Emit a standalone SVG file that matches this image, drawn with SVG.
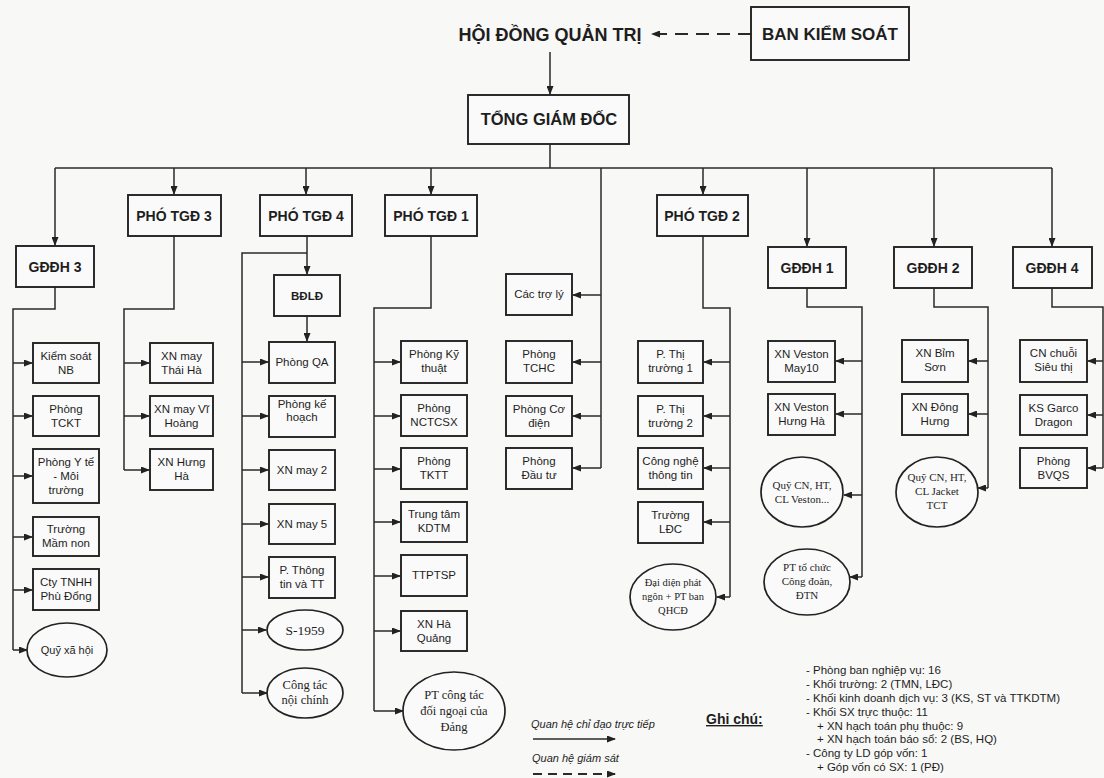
<svg xmlns="http://www.w3.org/2000/svg" width="1104" height="778" viewBox="0 0 1104 778">
<style>
.bg{fill:#f8f8f6}
.b{fill:#fafafa;stroke:#222;stroke-width:1.9}
.e{fill:#fafafa;stroke:#222;stroke-width:1.7}
.c{fill:none;stroke:#2a2a2a;stroke-width:1.5}
.d{fill:none;stroke:#2a2a2a;stroke-width:1.8;stroke-dasharray:13,8}
text{font-family:"Liberation Sans",Arial,sans-serif;fill:#1e1e1e;text-anchor:middle}
.h{font-weight:bold;font-size:16.5px}
.m{font-weight:bold;font-size:14px}
.s{font-size:11.5px}
.r{font-family:"Liberation Serif","Times New Roman",serif;font-size:11px}
.l{font-size:11px;font-style:italic;text-anchor:start}
.n{font-size:11.5px;text-anchor:start}
</style>
<defs>
<marker id="a" markerWidth="9" markerHeight="7" refX="8" refY="3.5" orient="auto" markerUnits="userSpaceOnUse">
<path d="M0,0 L9,3.5 L0,7 Z" fill="#222"/>
</marker>
</defs>
<rect class="bg" x="0" y="0" width="1104" height="778"/>

<g id="connectors">
<path class="d" d="M751,34 L652,34" marker-end="url(#a)"/>
<path class="c" d="M550,52 L550,94" marker-end="url(#a)"/>
<path class="c" d="M550,143 L550,168 M55,168 L1052,168"/>
<path class="c" d="M55,168 L55,245" marker-end="url(#a)"/>
<path class="c" d="M174,168 L174,194" marker-end="url(#a)"/>
<path class="c" d="M306,168 L306,194" marker-end="url(#a)"/>
<path class="c" d="M431,168 L431,194" marker-end="url(#a)"/>
<path class="c" d="M703,168 L703,194" marker-end="url(#a)"/>
<path class="c" d="M807,168 L807,246" marker-end="url(#a)"/>
<path class="c" d="M934,168 L934,246" marker-end="url(#a)"/>
<path class="c" d="M1052,168 L1052,246" marker-end="url(#a)"/>
<path class="c" d="M601,168 L601,468"/>
<!-- GDDH3 -->
<path class="c" d="M55,287 L55,309 L13,309 L13,650"/>
<path class="c" d="M13,363 L32,363" marker-end="url(#a)"/>
<path class="c" d="M13,416 L32,416" marker-end="url(#a)"/>
<path class="c" d="M13,476 L32,476" marker-end="url(#a)"/>
<path class="c" d="M13,537 L32,537" marker-end="url(#a)"/>
<path class="c" d="M13,590 L32,590" marker-end="url(#a)"/>
<path class="c" d="M13,650 L27,650" marker-end="url(#a)"/>
<!-- PTGD3 -->
<path class="c" d="M174,236 L174,309 L124,309 L124,470"/>
<path class="c" d="M124,363 L149,363" marker-end="url(#a)"/>
<path class="c" d="M124,416 L149,416" marker-end="url(#a)"/>
<path class="c" d="M124,470 L149,470" marker-end="url(#a)"/>
<!-- PTGD4 -->
<path class="c" d="M307,236 L307,274" marker-end="url(#a)"/>
<path class="c" d="M307,253 L242,253 L242,693"/>
<path class="c" d="M307,316 L307,341" marker-end="url(#a)"/>
<path class="c" d="M242,362 L268,362" marker-end="url(#a)"/>
<path class="c" d="M242,416 L268,416" marker-end="url(#a)"/>
<path class="c" d="M242,470 L268,470" marker-end="url(#a)"/>
<path class="c" d="M242,524 L268,524" marker-end="url(#a)"/>
<path class="c" d="M242,577 L268,577" marker-end="url(#a)"/>
<path class="c" d="M242,630 L266,630" marker-end="url(#a)"/>
<path class="c" d="M242,693 L267,693" marker-end="url(#a)"/>
<!-- PTGD1 -->
<path class="c" d="M431,236 L431,308 L374,308 L374,711"/>
<path class="c" d="M374,362 L400,362" marker-end="url(#a)"/>
<path class="c" d="M374,416 L400,416" marker-end="url(#a)"/>
<path class="c" d="M374,469 L400,469" marker-end="url(#a)"/>
<path class="c" d="M374,522 L400,522" marker-end="url(#a)"/>
<path class="c" d="M374,576 L400,576" marker-end="url(#a)"/>
<path class="c" d="M374,631 L400,631" marker-end="url(#a)"/>
<path class="c" d="M374,711 L403,711" marker-end="url(#a)"/>
<!-- Cac tro ly -->
<path class="c" d="M601,295 L573,295" marker-end="url(#a)"/>
<path class="c" d="M601,362 L573,362" marker-end="url(#a)"/>
<path class="c" d="M601,416 L573,416" marker-end="url(#a)"/>
<path class="c" d="M601,468 L573,468" marker-end="url(#a)"/>
<!-- PTGD2 -->
<path class="c" d="M703,236 L703,308 L730,308 L730,597"/>
<path class="c" d="M730,362 L704,362" marker-end="url(#a)"/>
<path class="c" d="M730,416 L704,416" marker-end="url(#a)"/>
<path class="c" d="M730,468 L704,468" marker-end="url(#a)"/>
<path class="c" d="M730,522 L704,522" marker-end="url(#a)"/>
<path class="c" d="M730,597 L717,597" marker-end="url(#a)"/>
<!-- GDDH1 -->
<path class="c" d="M807,288 L807,307 L862,307 L862,577"/>
<path class="c" d="M862,361 L836,361" marker-end="url(#a)"/>
<path class="c" d="M862,414 L836,414" marker-end="url(#a)"/>
<path class="c" d="M862,495 L844,495" marker-end="url(#a)"/>
<path class="c" d="M862,577 L850,577" marker-end="url(#a)"/>
<!-- GDDH2 -->
<path class="c" d="M934,288 L934,307 L988,307 L988,488"/>
<path class="c" d="M988,361 L969,361" marker-end="url(#a)"/>
<path class="c" d="M988,414 L969,414" marker-end="url(#a)"/>
<path class="c" d="M988,488 L978,488" marker-end="url(#a)"/>
<!-- GDDH4 -->
<path class="c" d="M1052,288 L1052,307 L1103,307 L1103,468"/>
<path class="c" d="M1103,361 L1088,361" marker-end="url(#a)"/>
<path class="c" d="M1103,415 L1088,415" marker-end="url(#a)"/>
<path class="c" d="M1103,468 L1088,468" marker-end="url(#a)"/>
</g>

<g id="hdqt"><text class="h" x="550" y="41" style="font-size:18px">HỘI ĐỒNG QUẢN TRỊ</text></g>
<g id="bks"><rect class="b" x="751" y="7" width="158" height="53"/><text class="h" x="830" y="40" style="font-size:17px">BAN KIỂM SOÁT</text></g>
<g id="tgd"><rect class="b" x="468" y="95" width="161" height="49"/><text class="h" x="549" y="125">TỔNG GIÁM ĐỐC</text></g>

<g id="ptgd3"><rect class="b" x="128" y="195" width="93" height="41"/><text class="m" x="174" y="221">PHÓ TGĐ 3</text></g>
<g id="ptgd4"><rect class="b" x="260" y="195" width="92" height="41"/><text class="m" x="306" y="221">PHÓ TGĐ 4</text></g>
<g id="ptgd1"><rect class="b" x="385" y="195" width="92" height="41"/><text class="m" x="431" y="221">PHÓ TGĐ 1</text></g>
<g id="ptgd2"><rect class="b" x="657" y="195" width="91" height="41"/><text class="m" x="702" y="221">PHÓ TGĐ 2</text></g>

<g id="gddh3"><rect class="b" x="16" y="246" width="78" height="41"/><text class="m" x="55" y="272">GĐĐH 3</text></g>
<g id="gddh1"><rect class="b" x="768" y="247" width="78" height="41"/><text class="m" x="807" y="273">GĐĐH 1</text></g>
<g id="gddh2"><rect class="b" x="894" y="247" width="78" height="41"/><text class="m" x="933" y="273">GĐĐH 2</text></g>
<g id="gddh4"><rect class="b" x="1013" y="247" width="79" height="41"/><text class="m" x="1052" y="273">GĐĐH 4</text></g>

<!-- GDDH3 children -->
<g id="ksnb"><rect class="b" x="33" y="343" width="66" height="40"/><text class="s" x="66" y="360">Kiểm soát</text><text class="s" x="66" y="374">NB</text></g>
<g id="tckt"><rect class="b" x="33" y="396" width="66" height="40"/><text class="s" x="66" y="413">Phòng</text><text class="s" x="66" y="427">TCKT</text></g>
<g id="yte"><rect class="b" x="33" y="449" width="66" height="54"/><text class="s" x="66" y="466">Phòng Y tế</text><text class="s" x="66" y="480">- Môi</text><text class="s" x="66" y="494">trường</text></g>
<g id="mamnon"><rect class="b" x="33" y="517" width="66" height="39"/><text class="s" x="66" y="533">Trường</text><text class="s" x="66" y="547">Mầm non</text></g>
<g id="phudong"><rect class="b" x="33" y="569" width="66" height="41"/><text class="s" x="66" y="586">Cty TNHH</text><text class="s" x="66" y="600">Phù Đổng</text></g>
<g id="quyxh"><ellipse class="e" cx="67" cy="650" rx="40" ry="27"/><text class="s" x="67" y="654" style="font-size:11px">Quỹ xã hội</text></g>

<!-- PTGD3 children -->
<g id="thaiha"><rect class="b" x="150" y="343" width="63" height="40"/><text class="s" x="181.5" y="360">XN may</text><text class="s" x="181.5" y="374">Thái Hà</text></g>
<g id="vihoang"><rect class="b" x="150" y="396" width="63" height="40"/><text class="s" x="181.5" y="413">XN may Vĩ</text><text class="s" x="181.5" y="427">Hoàng</text></g>
<g id="hungha"><rect class="b" x="150" y="449" width="63" height="41"/><text class="s" x="181.5" y="466">XN Hưng</text><text class="s" x="181.5" y="480">Hà</text></g>

<!-- PTGD4 children -->
<g id="bdld"><rect class="b" x="274" y="275" width="66" height="41"/><text class="s" x="307" y="300" style="font-weight:bold">BĐLĐ</text></g>
<g id="qa"><rect class="b" x="269" y="342" width="66" height="41"/><text class="s" x="302" y="366">Phòng QA</text></g>
<g id="kehoach"><rect class="b" x="269" y="396" width="66" height="41"/><text class="s" x="302" y="408">Phòng kế</text><text class="s" x="302" y="421">hoạch</text></g>
<g id="may2"><rect class="b" x="269" y="450" width="66" height="40"/><text class="s" x="302" y="474">XN may 2</text></g>
<g id="may5"><rect class="b" x="269" y="504" width="66" height="40"/><text class="s" x="302" y="528">XN may 5</text></g>
<g id="thongtin"><rect class="b" x="269" y="557" width="66" height="41"/><text class="s" x="302" y="574">P. Thông</text><text class="s" x="302" y="588">tin và TT</text></g>
<g id="s1959"><ellipse class="e" cx="305" cy="630" rx="38" ry="20"/><text class="r" x="305" y="635" style="font-size:13.5px">S-1959</text></g>
<g id="noichinh"><ellipse class="e" cx="305" cy="693" rx="38" ry="25"/><text class="r" x="305" y="689" style="font-size:12.5px">Công tác</text><text class="r" x="305" y="704" style="font-size:12.5px">nội chính</text></g>

<!-- PTGD1 children -->
<g id="kythuat"><rect class="b" x="401" y="341" width="66" height="42"/><text class="s" x="434" y="358">Phòng Kỹ</text><text class="s" x="434" y="372">thuật</text></g>
<g id="nctcsx"><rect class="b" x="401" y="395" width="66" height="41"/><text class="s" x="434" y="412">Phòng</text><text class="s" x="434" y="426">NCTCSX</text></g>
<g id="tktt"><rect class="b" x="401" y="448" width="66" height="41"/><text class="s" x="434" y="465">Phòng</text><text class="s" x="434" y="479">TKTT</text></g>
<g id="kdtm"><rect class="b" x="401" y="502" width="66" height="40"/><text class="s" x="434" y="518">Trung tâm</text><text class="s" x="434" y="532">KDTM</text></g>
<g id="ttptsp"><rect class="b" x="401" y="555" width="66" height="41"/><text class="s" x="434" y="579">TTPTSP</text></g>
<g id="haquang"><rect class="b" x="401" y="611" width="66" height="40"/><text class="s" x="434" y="628">XN Hà</text><text class="s" x="434" y="642">Quảng</text></g>
<g id="doingoai"><ellipse class="e" cx="454" cy="711" rx="51" ry="39"/><text class="r" x="454" y="699" style="font-size:12.5px">PT công tác</text><text class="r" x="454" y="715" style="font-size:12.5px">đối ngoại của</text><text class="r" x="454" y="731" style="font-size:12.5px">Đảng</text></g>

<!-- Cac tro ly column -->
<g id="troly"><rect class="b" x="506" y="274" width="66" height="41"/><text class="s" x="539" y="298">Các trợ lý</text></g>
<g id="tchc"><rect class="b" x="506" y="341" width="66" height="42"/><text class="s" x="539" y="358">Phòng</text><text class="s" x="539" y="372">TCHC</text></g>
<g id="codien"><rect class="b" x="506" y="396" width="66" height="40"/><text class="s" x="539" y="413">Phòng Cơ</text><text class="s" x="539" y="427">điện</text></g>
<g id="dautu"><rect class="b" x="506" y="448" width="66" height="41"/><text class="s" x="539" y="465">Phòng</text><text class="s" x="539" y="479">Đầu tư</text></g>

<!-- PTGD2 children -->
<g id="tt1"><rect class="b" x="638" y="341" width="65" height="42"/><text class="s" x="670.5" y="358">P. Thị</text><text class="s" x="670.5" y="372">trường 1</text></g>
<g id="tt2"><rect class="b" x="638" y="396" width="65" height="40"/><text class="s" x="670.5" y="413">P. Thị</text><text class="s" x="670.5" y="427">trường 2</text></g>
<g id="cntt"><rect class="b" x="638" y="448" width="65" height="41"/><text class="s" x="670.5" y="465">Công nghệ</text><text class="s" x="670.5" y="479">thông tin</text></g>
<g id="ldc"><rect class="b" x="638" y="502" width="65" height="41"/><text class="s" x="670.5" y="519">Trường</text><text class="s" x="670.5" y="533">LĐC</text></g>
<g id="phatngon"><ellipse class="e" cx="673" cy="597" rx="43" ry="33"/><text class="r" x="673" y="586" style="font-size:10.5px">Đại diện phát</text><text class="r" x="673" y="600" style="font-size:10.5px">ngôn + PT ban</text><text class="r" x="673" y="614" style="font-size:10.5px">QHCĐ</text></g>

<!-- GDDH1 children -->
<g id="may10"><rect class="b" x="768" y="341" width="67" height="41"/><text class="s" x="801.5" y="358">XN Veston</text><text class="s" x="801.5" y="372">May10</text></g>
<g id="vestonhh"><rect class="b" x="768" y="394" width="67" height="41"/><text class="s" x="801.5" y="411">XN Veston</text><text class="s" x="801.5" y="425">Hưng Hà</text></g>
<g id="quyveston"><ellipse class="e" cx="802" cy="492" rx="41" ry="35"/><text class="r" x="802" y="489" style="font-size:11px">Quỹ CN, HT,</text><text class="r" x="802" y="503" style="font-size:11px">CL Veston...</text></g>
<g id="congdoan"><ellipse class="e" cx="807" cy="582" rx="43" ry="33"/><text class="r" x="807" y="571" style="font-size:11px">PT tổ chức</text><text class="r" x="807" y="585" style="font-size:11px">Công đoàn,</text><text class="r" x="807" y="599" style="font-size:11px">ĐTN</text></g>

<!-- GDDH2 children -->
<g id="bimson"><rect class="b" x="902" y="340" width="66" height="42"/><text class="s" x="935" y="357">XN Bỉm</text><text class="s" x="935" y="371">Sơn</text></g>
<g id="donghung"><rect class="b" x="902" y="394" width="66" height="41"/><text class="s" x="935" y="411">XN Đông</text><text class="s" x="935" y="425">Hưng</text></g>
<g id="quyjacket"><ellipse class="e" cx="937" cy="492" rx="41" ry="35"/><text class="r" x="937" y="481" style="font-size:11px">Quỹ CN, HT,</text><text class="r" x="937" y="495" style="font-size:11px">CL Jacket</text><text class="r" x="937" y="509" style="font-size:11px">TCT</text></g>

<!-- GDDH4 children -->
<g id="sieuthi"><rect class="b" x="1020" y="340" width="67" height="42"/><text class="s" x="1053.5" y="357">CN chuỗi</text><text class="s" x="1053.5" y="371">Siêu thị</text></g>
<g id="dragon"><rect class="b" x="1020" y="395" width="67" height="40"/><text class="s" x="1053.5" y="412">KS Garco</text><text class="s" x="1053.5" y="426">Dragon</text></g>
<g id="bvqs"><rect class="b" x="1020" y="448" width="67" height="40"/><text class="s" x="1053.5" y="465">Phòng</text><text class="s" x="1053.5" y="479">BVQS</text></g>

<!-- Legend -->
<g id="legend">
<text class="l" x="531" y="728">Quan hệ chỉ đạo trực tiếp</text>
<path class="c" d="M533,739 L615,739" marker-end="url(#a)"/>
<text class="l" x="532" y="762">Quan hệ giám sát</text>
<path class="d" d="M533,774 L615,774" style="stroke-dasharray:9,6" marker-end="url(#a)"/>
<text x="706" y="724" style="font-weight:bold;font-size:14px;text-anchor:start;text-decoration:underline">Ghi chú:</text>
</g>
<g id="notes">
<text class="n" x="806" y="674">- Phòng ban nghiệp vụ: 16</text>
<text class="n" x="806" y="688">- Khối trường: 2 (TMN, LĐC)</text>
<text class="n" x="806" y="702">- Khối kinh doanh dịch vụ: 3 (KS, ST và TTKDTM)</text>
<text class="n" x="806" y="716">- Khối SX trực thuộc: 11</text>
<text class="n" x="817" y="730">+ XN hạch toán phụ thuộc: 9</text>
<text class="n" x="817" y="743">+ XN hạch toán báo sổ: 2 (BS, HQ)</text>
<text class="n" x="806" y="757">- Công ty LD góp vốn: 1</text>
<text class="n" x="817" y="771">+ Góp vốn có SX: 1 (PĐ)</text>
</g>
</svg>
